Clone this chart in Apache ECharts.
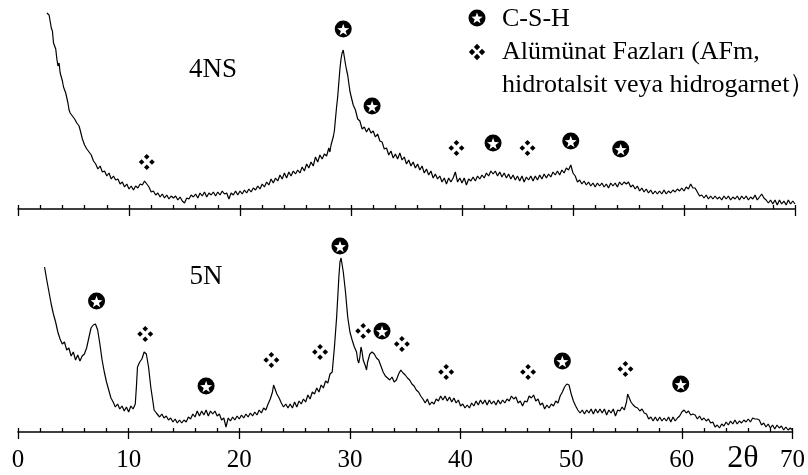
<!DOCTYPE html>
<html>
<head>
<meta charset="utf-8">
<script src="https://cdn.jsdelivr.net/npm/echarts@6/dist/echarts.min.js"></script>
<style>html,body{margin:0;padding:0;background:#fff}#c{width:808px;height:475px}</style>
</head>
<body>
<div id="c"></div>
<script>
// ---- data (2θ, relative intensity) ----
var xTicks = [0, 10, 20, 30, 40, 50, 60, 70];
var data4NS = [[2.6,196],[2.8,194],[3.0,181],[3.1,178],[3.2,166],[3.4,160],[3.5,150],[3.6,143],[3.7,146],[3.8,136],[4.0,128],[4.1,122],[4.3,116],[4.5,106],[4.6,99],[4.7,96],[4.9,93],[5.1,90],[5.3,86],[5.5,83],[5.6,79],[5.8,70],[6.0,64],[6.2,60],[6.4,57],[6.6,54],[6.8,48],
[7.0,45],[7.2,40],[7.4,43],[7.6,37],[7.8,38],[8.0,33],[8.2,36],[8.4,30],[8.6,33],[8.8,29],[9.0,30],[9.2,25],[9.4,27],[9.6,22],[9.8,25],[10.0,20],[10.2,23],[10.4,19],[10.6,23],[10.8,21],[11.0,25],[11.2,24],[11.4,28],[11.6,25],[11.8,22],[12.0,17],[12.2,18],[12.4,14],[12.6,16],[12.8,12],[13.0,15],[13.2,11],[13.4,14],[13.6,10],[13.8,13],[14.0,11],[14.2,13],[14.4,9],[14.6,12],[14.8,8],[15.0,6],[15.2,11],[15.4,10],[15.6,14],[15.8,12],[16.0,15],[16.2,11],[16.4,16],[16.6,13],[16.8,17],[17.0,12],[17.2,16],[17.4,14],[17.6,17],[17.8,13],[18.0,17],[18.2,14],[18.4,18],[18.6,15],[18.8,16],[19.0,10],[19.2,16],[19.4,14],[19.6,18],[19.8,14],[20.0,18],[20.2,15],[20.4,19],[20.6,16],[20.8,20],[21.0,17],[21.2,21],[21.4,19],[21.6,23],[21.8,20],[22.0,25],[22.2,22],[22.4,27],[22.6,24],[22.8,30],[23.0,26],[23.2,31],[23.4,28],[23.6,34],[23.8,30],[24.0,36],[24.2,31],[24.4,37],[24.6,33],[24.8,38],[25.0,35],[25.2,39],[25.4,36],[25.6,42],[25.8,38],[26.0,45],[26.2,41],[26.4,47],[26.6,43],[26.8,52],[27.0,47],[27.2,54],[27.4,50],[27.6,55],[27.8,53],[28.0,61],[28.1,57],[28.2,64],[28.3,62],[28.4,72],[28.5,78],[28.6,90],[28.7,102],[28.8,112],[28.9,126],[29.0,140],[29.1,150],[29.2,156],[29.3,159],[29.4,152],[29.5,145],[29.6,139],[29.7,134],[29.8,126],[29.9,118],
[30.0,113],[30.2,104],[30.4,99],[30.6,90],[30.8,88],[31.0,80],[31.2,82],[31.4,77],[31.6,81],[31.8,76],[32.0,78],[32.2,72],[32.4,75],[32.6,68],[32.8,67],[33.0,60],[33.2,61],[33.4,54],[33.6,58],[33.8,51],[34.0,55],[34.2,50],
[34.4,56],[34.6,49],[34.8,52],[35.0,45],[35.2,49],[35.4,43],[35.6,47],[35.8,41],[36.0,45],[36.2,39],[36.4,43],[36.6,36],[36.8,40],[37.0,34],[37.2,38],[37.4,31],[37.6,35],[37.8,30],[38.0,33],[38.2,27],[38.4,31],[38.6,25],[38.8,31],[39.0,27],[39.2,31],[39.4,37],[39.6,27],[39.8,31],[40.0,26],[40.2,31],[40.4,24],[40.6,30],[40.8,28],[41.0,32],[41.2,28],[41.4,33],[41.6,30],[41.8,34],[42.0,31],[42.2,36],[42.4,33],[42.6,38],[42.8,35],[43.0,38],[43.2,33],[43.4,37],[43.6,32],[43.8,36],[44.0,31],[44.2,35],[44.4,30],[44.6,34],[44.8,29],[45.0,33],[45.2,28],[45.4,33],[45.6,27],[45.8,32],[46.0,29],[46.2,33],[46.4,28],[46.6,33],[46.8,29],[47.0,34],[47.2,30],[47.4,35],[47.6,31],[47.8,35],[48.0,32],[48.2,37],[48.4,34],[48.6,38],[48.8,34],[49.0,39],[49.2,36],[49.4,41],[49.6,39],[49.8,44],[50.0,36],[50.2,33],[50.4,27],[50.6,29],[50.8,25],[51.0,28],[51.2,24],[51.4,27],[51.6,23],[51.8,26],[52.0,22],[52.2,26],[52.4,23],[52.6,26],[52.8,22],[53.0,25],[53.2,21],[53.4,26],[53.6,23],[53.8,26],[54.0,22],[54.2,27],[54.4,24],[54.6,27],[54.8,25],[55.0,27],[55.2,22],[55.4,24],[55.6,20],[55.8,23],[56.0,18],[56.2,21],[56.4,17],[56.6,20],[56.8,16],[57.0,19],[57.2,15],[57.4,18],[57.6,15],[57.8,18],[58.0,15],[58.2,19],[58.4,15],[58.6,18],[58.8,16],[59.0,19],[59.2,17],[59.4,20],[59.6,18],[59.8,21],[60.0,18],[60.2,22],[60.4,20],[60.6,25],[60.8,21],[61.0,21],[61.2,17],[61.4,13],[61.6,14],[61.8,11],[62.0,14],[62.2,10],[62.4,13],[62.6,10],[62.8,13],[63.0,10],[63.2,12],[63.4,9],[63.6,13],[63.8,10],[64.0,13],[64.2,9],[64.4,12],[64.6,10],[64.8,13],[65.0,9],[65.2,13],[65.4,10],[65.6,13],[65.8,9],[66.0,12],[66.2,10],[66.4,14],[66.6,9],[66.8,12],[67.0,15],[67.2,11],[67.4,9],[67.6,6],[67.8,9],[68.0,5],[68.2,9],[68.4,4],[68.6,9],[68.8,5],[69.0,8],[69.2,4],[69.4,9],[69.6,5],[69.8,8],[70.0,5]];
var data5N = [[2.4,165],[2.6,152],[2.8,140],[3.0,128],[3.2,118],[3.4,110],[3.6,100],[3.8,93],[4.0,88],[4.2,90],[4.4,82],[4.6,84],[4.8,76],[5.0,80],[5.2,72],[5.4,77],[5.6,71],[5.8,76],[6.0,78],[6.2,84],[6.4,94],[6.6,104],[6.8,107],[7.0,108],[7.2,102],[7.4,88],[7.6,72],[7.8,60],[8.0,50],[8.2,42],[8.4,34],[8.6,30],[8.8,25],[9.0,28],[9.2,23],[9.4,26],[9.6,21],[9.8,25],[10.0,20],[10.2,26],[10.4,23],[10.6,28],[10.7,45],[10.8,65],[11.0,70],[11.2,73],[11.4,80],[11.5,78],[11.6,78],[11.8,65],[12.0,45],[12.2,30],[12.3,22],
[12.5,19],[12.8,15],[13.0,18],[13.2,14],[13.4,16],[13.6,12],[13.8,14],[14.0,10],[14.2,13],[14.4,9],[14.6,12],[14.8,9],[15.0,12],[15.2,10],[15.4,15],[15.6,13],[15.8,18],[16.0,15],[16.2,21],[16.4,16],[16.6,21],[16.8,17],[17.0,22],[17.2,16],[17.4,21],[17.6,18],[17.8,21],[18.0,16],[18.2,18],[18.4,12],[18.6,14],[18.8,5],[19.0,14],[19.2,11],[19.4,15],[19.6,12],[19.8,16],[20.0,13],[20.2,17],[20.4,14],[20.6,18],[20.8,15],[21.0,19],[21.2,16],[21.4,20],[21.6,17],[21.8,22],[22.0,19],[22.2,24],[22.4,22],[22.6,28],[22.8,33],[23.0,40],[23.1,47],[23.2,46],[23.4,38],[23.6,34],
[23.8,29],[24.0,25],[24.2,28],[24.4,24],[24.6,28],[24.8,24],[25.0,30],[25.2,25],[25.4,31],[25.6,28],[25.8,33],[26.0,30],[26.2,37],[26.4,33],[26.6,40],[26.8,38],[27.0,44],[27.2,40],[27.4,47],[27.6,44],[27.8,51],[28.0,49],[28.2,58],[28.4,60],[28.6,85],[28.8,115],[29.0,155],[29.1,170],[29.2,174],[29.3,172],[29.4,160],[29.6,140],[29.8,115],[30.0,100],[30.2,92],[30.4,85],[30.6,80],[30.7,72],[30.8,69],[30.9,75],[31.0,85],[31.1,80],[31.2,72],[31.4,66],[31.5,62],[31.6,70],[31.8,78],[32.0,80],[32.2,78],[32.4,74],[32.6,72],[32.8,66],[33.0,60],[33.2,56],[33.4,54],[33.6,52],[33.8,55],[34.0,50],[34.2,52],[34.4,58],[34.6,62],[34.8,59],[35.0,57],[35.2,54],[35.4,52],[35.6,48],[35.8,46],[36.0,42],[36.2,40],[36.4,36],
[36.6,33],[36.8,29],[37.0,33],[37.2,27],[37.4,30],[37.6,28],[37.8,33],[38.0,31],[38.2,36],[38.4,32],[38.6,36],[38.8,31],[39.0,35],[39.2,30],[39.4,34],[39.6,29],[39.8,32],[40.0,26],[40.2,28],[40.4,24],[40.6,27],[40.8,24],[41.0,29],[41.2,26],[41.4,31],[41.6,27],[41.8,32],[42.0,28],[42.2,32],[42.4,27],[42.6,32],[42.8,28],[43.0,31],[43.2,27],[43.4,32],[43.6,28],[43.8,32],[44.0,29],[44.2,33],[44.4,31],[44.6,36],[44.8,33],[45.0,35],[45.2,29],[45.4,31],[45.6,26],[45.8,31],[46.0,30],[46.2,36],[46.4,34],[46.6,37],[46.8,31],[47.0,33],[47.2,27],[47.4,29],[47.6,23],[47.8,27],[48.0,24],[48.2,28],[48.4,26],[48.6,31],[48.8,29],[49.0,36],[49.2,40],[49.4,45],[49.6,48],[49.8,47],[50.0,38],[50.2,31],[50.4,26],[50.6,22],
[50.8,19],[51.0,22],[51.2,18],[51.4,22],[51.6,19],[51.8,23],[52.0,18],[52.2,23],[52.4,19],[52.6,23],[52.8,19],[53.0,23],[53.2,17],[53.4,22],[53.6,19],[53.8,23],[54.0,16],[54.2,22],[54.4,21],[54.6,25],[54.8,22],[55.0,30],[55.1,38],[55.2,36],[55.4,30],[55.6,27],[55.8,25],[56.0,24],[56.2,21],[56.4,23],[56.6,19],
[56.8,18],[57.0,13],[57.2,15],[57.4,11],[57.6,15],[57.8,11],[58.0,15],[58.2,11],[58.4,14],[58.6,11],[58.8,15],[59.0,10],[59.2,15],[59.4,11],[59.6,14],[59.8,16],[60.0,20],[60.2,22],[60.4,19],[60.6,21],[60.8,17],[61.0,18],
[61.2,17],[61.4,13],[61.6,16],[61.8,12],[62.0,14],[62.2,11],[62.4,13],[62.6,9],[62.8,10],[63.0,5],[63.2,7],[63.4,4],[63.6,8],[63.8,6],[64.0,10],[64.2,7],[64.4,11],[64.6,8],[64.8,12],[65.0,8],[65.2,11],[65.4,9],[65.6,12],[65.8,10],[66.0,13],[66.2,10],[66.4,14],[66.6,13],[66.8,13],[67.0,12],[67.2,7],[67.4,9],[67.6,5],[67.8,8],[68.0,4],[68.2,7],[68.4,3],[68.6,7],[68.8,4],[69.0,6],[69.2,2],[69.4,5],[69.6,2],[69.8,4],[70.0,2]];
// phase markers [2θ, marker height]
var csh4NS = [[29.3,180],[31.9,103],[42.8,66],[49.8,68],[54.3,60]];
var afm4NS = [[11.6,47],[39.5,61],[45.9,61]];
var csh5N = [[7.1,131],[17.0,46],[29.1,186],[32.9,101],[49.2,71],[59.9,48]];
var afm5N = [[11.5,98],[22.9,72],[27.3,80],[31.2,101],[34.7,88],[38.7,60],[46.1,60],[54.9,63]];
var sampleNames = ['4NS', '5N'];
var legendNames = ['C-S-H', 'Alümünat Fazları (AFm,', 'hidrotalsit veya hidrogarnet）'];
var xLabelName = '2θ';

// ---- symbols ----
var STAR = 'path://M10 0 L12.35 6.76 L19.51 6.91 L13.80 11.24 L15.88 18.09 L10 14 L4.12 18.09 L6.20 11.24 L0.49 6.91 L7.65 6.76 Z';
var AFM = 'path://M10 0 L13.5 3.5 L10 7 L6.5 3.5 Z M10 13 L13.5 16.5 L10 20 L6.5 16.5 Z M0 10 L3.5 6.5 L7 10 L3.5 13.5 Z M13 10 L16.5 6.5 L20 10 L16.5 13.5 Z';
var FONT = '"Liberation Serif", "Times New Roman", serif';

function xAxesFor(gridIndex, showLabels) {
  var common = { type: 'value', gridIndex: gridIndex, min: 0, max: 70, interval: 10, position: 'bottom',
    splitLine: { show: false } };
  return [
    Object.assign({}, common, {
      axisLine: { show: true, lineStyle: { color: '#000', width: 1.5 } },
      axisTick: { show: true, inside: true, length: 4, lineStyle: { color: '#000', width: 1.3 } },
      minorTick: { show: true, splitNumber: 5, length: 4, lineStyle: { color: '#000', width: 1.3 } },
      axisLabel: { show: false }
    }),
    Object.assign({}, common, {
      axisLine: { show: false },
      axisTick: { show: true, inside: false, length: 7, lineStyle: { color: '#000', width: 1.3 } },
      minorTick: { show: false },
      axisLabel: { show: showLabels, margin: 16, color: '#000', fontFamily: FONT, fontSize: 25,
        formatter: function (v) { return xTicks.indexOf(v) >= 0 ? String(v) : ''; } }
    })
  ];
}

function markerSeries(data, xi, yi, kind) {
  if (kind === 'csh') {
    return [
      { type: 'scatter', xAxisIndex: xi, yAxisIndex: yi, data: data, symbol: 'circle', symbolSize: 17,
        itemStyle: { color: '#000', opacity: 1 }, z: 5, silent: true },
      { type: 'scatter', xAxisIndex: xi, yAxisIndex: yi, data: data, symbol: STAR, symbolSize: 12, symbolKeepAspect: true,
        symbolOffset: [0, 0.5], itemStyle: { color: '#fff', opacity: 1 }, z: 6, silent: true }
    ];
  }
  return [
    { type: 'scatter', xAxisIndex: xi, yAxisIndex: yi, data: data, symbol: AFM, symbolSize: 16,
      itemStyle: { color: '#000', opacity: 1 }, z: 5, silent: true }
  ];
}

// polygon points for legend symbols
function starPoints(cx, cy, R, r) {
  var pts = [];
  for (var i = 0; i < 10; i++) {
    var a = -Math.PI / 2 + i * Math.PI / 5;
    var rad = (i % 2 === 0) ? R : r;
    pts.push([cx + rad * Math.cos(a), cy + rad * Math.sin(a)]);
  }
  return pts;
}
function diamond(cx, cy, h) {
  return [[cx, cy - h], [cx + h, cy], [cx, cy + h], [cx - h, cy]];
}

var chart = echarts.init(document.getElementById('c'), null, { renderer: 'canvas' });
var series = [
  { type: 'line', xAxisIndex: 0, yAxisIndex: 0, data: data4NS, showSymbol: false, symbol: 'none',
    lineStyle: { color: '#000', width: 1.2 }, z: 3, silent: true },
  { type: 'line', xAxisIndex: 2, yAxisIndex: 1, data: data5N, showSymbol: false, symbol: 'none',
    lineStyle: { color: '#000', width: 1.2 }, z: 3, silent: true }
].concat(markerSeries(csh4NS, 0, 0, 'csh'), markerSeries(afm4NS, 0, 0, 'afm'),
         markerSeries(csh5N, 2, 1, 'csh'), markerSeries(afm5N, 2, 1, 'afm'));

var lx = 477, ly1 = 18, ly2 = 52;
chart.setOption({
  animation: false,
  backgroundColor: '#fff',
  grid: [
    { left: 18, right: 13, top: 9, height: 200 },
    { left: 18, right: 13, top: 232, height: 200 }
  ],
  xAxis: xAxesFor(0, false).concat(xAxesFor(1, true)),
  yAxis: [
    { type: 'value', gridIndex: 0, min: 0, max: 200, show: false },
    { type: 'value', gridIndex: 1, min: 0, max: 200, show: false }
  ],
  series: series,
  graphic: [
    { type: 'text', x: 213, y: 70, style: { text: sampleNames[0], font: '27px ' + FONT, fill: '#000', textAlign: 'center', textVerticalAlign: 'middle' } },
    { type: 'text', x: 206, y: 277, style: { text: sampleNames[1], font: '27px ' + FONT, fill: '#000', textAlign: 'center', textVerticalAlign: 'middle' } },
    { type: 'text', x: 743, y: 459, style: { text: xLabelName, font: '32px ' + FONT, fill: '#000', textAlign: 'center', textVerticalAlign: 'middle' } },
    { type: 'circle', shape: { cx: lx, cy: ly1, r: 8.5 }, style: { fill: '#000' } },
    { type: 'polygon', shape: { points: starPoints(lx, ly1 + 0.5, 6, 2.5) }, style: { fill: '#fff' } },
    { type: 'polygon', shape: { points: diamond(lx, ly2 - 5, 3.2) }, style: { fill: '#000' } },
    { type: 'polygon', shape: { points: diamond(lx, ly2 + 5, 3.2) }, style: { fill: '#000' } },
    { type: 'polygon', shape: { points: diamond(lx - 5, ly2, 3.2) }, style: { fill: '#000' } },
    { type: 'polygon', shape: { points: diamond(lx + 5, ly2, 3.2) }, style: { fill: '#000' } },
    { type: 'text', x: 502, y: 19, style: { text: legendNames[0], font: '26px ' + FONT, fill: '#000', textVerticalAlign: 'middle' } },
    { type: 'text', x: 502, y: 52, style: { text: legendNames[1], font: '26px ' + FONT, fill: '#000', textVerticalAlign: 'middle' } },
    { type: 'text', x: 502, y: 85, style: { text: legendNames[2], font: '26px ' + FONT, fill: '#000', textVerticalAlign: 'middle' } }
  ]
});
</script>
</body>
</html>
